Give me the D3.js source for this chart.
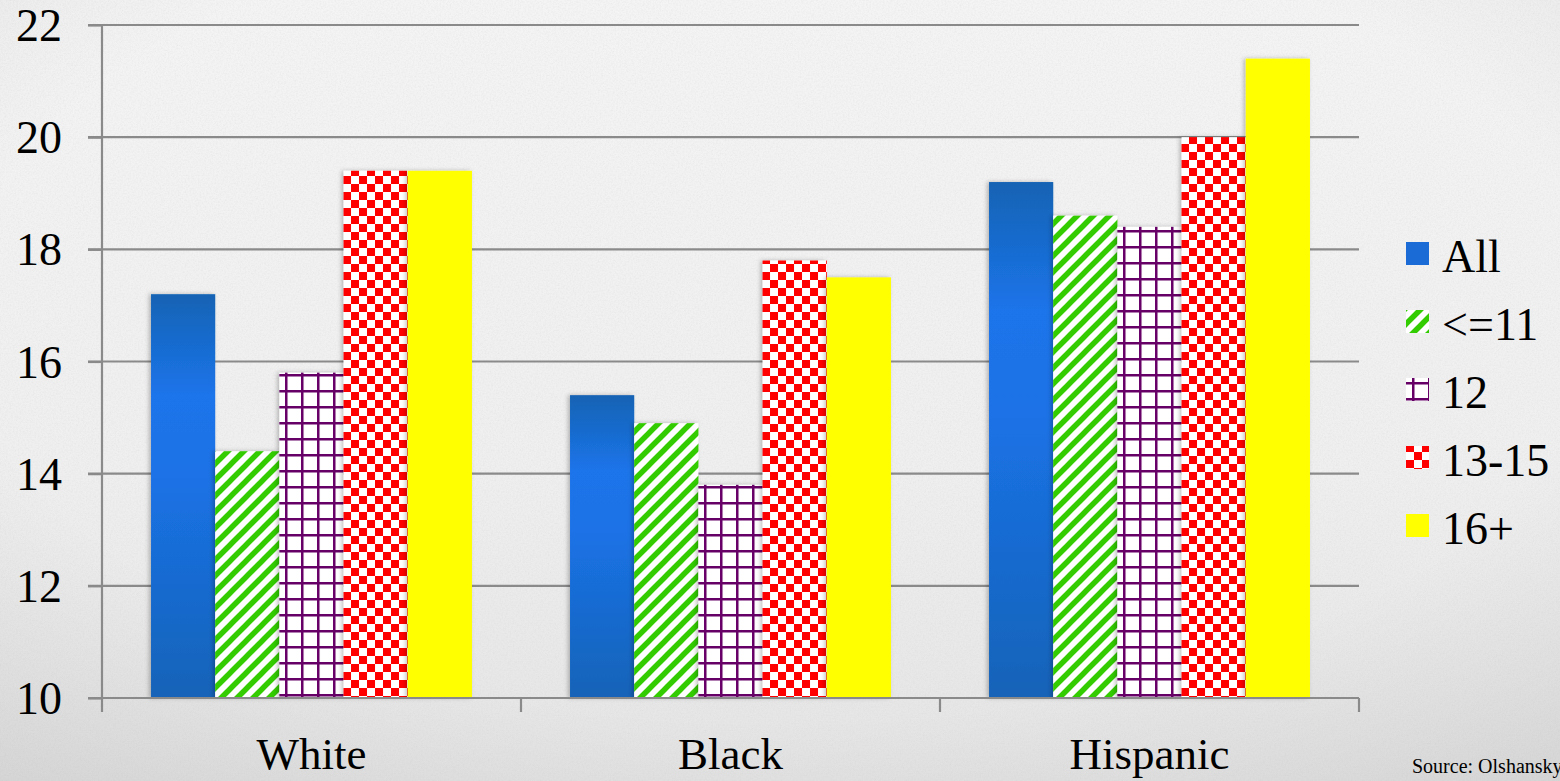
<!DOCTYPE html>
<html>
<head>
<meta charset="utf-8">
<script src="https://cdn.jsdelivr.net/npm/d3@7"></script>
<style>
html,body{margin:0;padding:0;background:#f1f1f1;}
svg{display:block;}
</style>
</head>
<body>
<svg id="chart" width="1560" height="781"></svg>
<script>
const categories = ["White", "Black", "Hispanic"];
const seriesNames = ["All", "<=11", "12", "13-15", "16+"];
const valuesAll   = [17.2, 15.4, 19.2];
const valuesLe11  = [14.4, 14.9, 18.6];
const values12    = [15.8, 13.8, 18.4];
const values1315  = [19.4, 17.8, 20.0];
const values16    = [19.4, 17.5, 21.4];
const yTicks = [10, 12, 14, 16, 18, 20, 22];
const sourceText = "Source: Olshansky et al.";

const series = [valuesAll, valuesLe11, values12, values1315, values16];

(function () {
const W = 1560, H = 781;
const svg = d3.select("#chart");
const defs = svg.append("defs");

// paper texture
const tex = defs.append("filter").attr("id","paper").attr("x",0).attr("y",0).attr("width","100%").attr("height","100%");
tex.append("feTurbulence").attr("type","fractalNoise").attr("baseFrequency","0.6").attr("numOctaves",3).attr("seed",4).attr("result","noise");
tex.append("feColorMatrix").attr("in","noise").attr("type","matrix")
  .attr("values","0 0 0 0 0.6  0 0 0 0 0.6  0 0 0 0 0.6  0 0 0 -1.6 1.0").attr("result","tint");
tex.append("feComposite").attr("in","tint").attr("in2","SourceGraphic").attr("operator","in");

const bgGrad = defs.append("linearGradient").attr("id","bgGrad").attr("x1",0).attr("y1",0).attr("x2",0).attr("y2",1);
bgGrad.append("stop").attr("offset","0%").attr("stop-color","#f4f4f4");
bgGrad.append("stop").attr("offset","60%").attr("stop-color","#efefef");
bgGrad.append("stop").attr("offset","100%").attr("stop-color","#e4e4e4");

const vig = defs.append("radialGradient").attr("id","vignette").attr("cx","50%").attr("cy","40%").attr("r","80%");
vig.append("stop").attr("offset","65%").attr("stop-color","#000").attr("stop-opacity",0);
vig.append("stop").attr("offset","100%").attr("stop-color","#000").attr("stop-opacity",0.07);

svg.append("rect").attr("width",W).attr("height",H).attr("fill","url(#bgGrad)");
svg.append("rect").attr("width",W).attr("height",H).attr("fill","#f1f1f1").attr("filter","url(#paper)").attr("opacity",0.25);
svg.append("rect").attr("width",W).attr("height",H).attr("fill","url(#vignette)");

// patterns
const blue = defs.append("linearGradient").attr("id","blueGrad").attr("x1",0).attr("y1",0).attr("x2",0).attr("y2",1);
blue.append("stop").attr("offset","0%").attr("stop-color","#1463b4");
blue.append("stop").attr("offset","25%").attr("stop-color","#1c74ea");
blue.append("stop").attr("offset","45%").attr("stop-color","#1b72e6");
blue.append("stop").attr("offset","100%").attr("stop-color","#1463b8");

const pGreen = defs.append("pattern").attr("id","pGreen").attr("patternUnits","userSpaceOnUse").attr("width",16).attr("height",16);
pGreen.append("rect").attr("width",16).attr("height",16).attr("fill","#fff");
pGreen.append("path").attr("d","M-4,4 L4,-4 M0,16 L16,0 M12,20 L20,12").attr("stroke","#33cc00").attr("stroke-width",5.5);

const pGrid = defs.append("pattern").attr("id","pGrid").attr("patternUnits","userSpaceOnUse").attr("width",16).attr("height",16);
pGrid.append("rect").attr("width",16).attr("height",16).attr("fill","#fff");
pGrid.append("rect").attr("x",6).attr("y",0).attr("width",2.5).attr("height",16).attr("fill","#660066");
pGrid.append("rect").attr("x",0).attr("y",6).attr("width",16).attr("height",2.5).attr("fill","#660066");

const pCheck = defs.append("pattern").attr("id","pCheck").attr("patternUnits","userSpaceOnUse").attr("width",16).attr("height",16);
pCheck.append("rect").attr("width",16).attr("height",16).attr("fill","#fff");
pCheck.append("rect").attr("x",0).attr("y",0).attr("width",8).attr("height",8).attr("fill","#ff0000");
pCheck.append("rect").attr("x",8).attr("y",8).attr("width",8).attr("height",8).attr("fill","#ff0000");

const fills = ["url(#blueGrad)", "url(#pGreen)", "url(#pGrid)", "url(#pCheck)", "#ffff00"];
const legendFills = ["#1a6bd6", "url(#pGreen)", "url(#pGrid)", "url(#pCheck)", "#ffff00"];

const shadow = defs.append("filter").attr("id","shadow").attr("x","-20%").attr("y","-5%").attr("width","140%").attr("height","110%");
shadow.append("feDropShadow").attr("dx",-2).attr("dy",0).attr("stdDeviation",2).attr("flood-color","#000").attr("flood-opacity",0.25);

// scales
const pLeft = 102, pRight = 1359, pTop = 25, pBottom = 698;
const x0 = d3.scaleBand().domain(categories).range([pLeft, pRight]).paddingInner(0.234).paddingOuter(0.117);
const x1 = d3.scaleBand().domain(seriesNames).range([0, x0.bandwidth()]);
const y = d3.scaleLinear().domain([10, 22]).range([pBottom, pTop]);

const font = "'Liberation Serif','Times New Roman',Times,serif";
const gray = "#8a8a8a";

// gridlines
svg.append("g").selectAll("line").data(yTicks).join("line")
  .attr("x1", pLeft - 14).attr("x2", pRight).attr("y1", d => y(d)).attr("y2", d => y(d))
  .attr("stroke", gray).attr("stroke-width", 2.2);

// bars
const groups = svg.append("g").selectAll("g").data(categories).join("g")
  .attr("transform", d => `translate(${x0(d)},0)`);
groups.selectAll("rect").data((d, i) => seriesNames.map((s, j) => ({s, j, v: series[j][i]}))).join("rect")
  .attr("x", d => x1(d.s)).attr("width", x1.bandwidth())
  .attr("y", d => y(d.v)).attr("height", d => y(10) - y(d.v))
  .attr("fill", d => fills[d.j]).attr("filter", "url(#shadow)");

// y axis
const yAxis = d3.axisLeft(y).tickValues(yTicks).tickSize(14).tickPadding(26).tickFormat(d3.format("d"));
const gy = svg.append("g").attr("transform", `translate(${pLeft},0)`).call(yAxis);
gy.attr("font-family", font);
gy.select(".domain").remove();
gy.selectAll(".tick line").attr("stroke", gray).attr("stroke-width", 2.2);
gy.selectAll(".tick text").attr("font-family", font).attr("font-size", 46).attr("fill", "#000").attr("dy", "0.34em");
svg.append("line").attr("x1", pLeft).attr("x2", pLeft).attr("y1", pTop).attr("y2", pBottom)
  .attr("stroke", gray).attr("stroke-width", 2.2);

// x axis
const xAxis = d3.axisBottom(x0).tickSize(0).tickPadding(39);
const gx = svg.append("g").attr("transform", `translate(0,${pBottom})`).call(xAxis);
gx.attr("font-family", font);
gx.select(".domain").attr("stroke", gray).attr("stroke-width", 2.2).attr("d", `M${pLeft},0H${pRight}`);
gx.selectAll(".tick text").attr("font-family", font).attr("font-size", 45).attr("fill", "#000");
const boundaries = d3.range(categories.length + 1).map(i => pLeft + i * x0.step());
svg.append("g").selectAll("line").data(boundaries).join("line")
  .attr("x1", d => d).attr("x2", d => d).attr("y1", pBottom).attr("y2", pBottom + 14)
  .attr("stroke", gray).attr("stroke-width", 2.2);

// legend
const legY = d3.scalePoint().domain(seriesNames).range([272, 544]);
const leg = svg.append("g").attr("font-family", font).selectAll("g").data(seriesNames).join("g")
  .attr("transform", d => `translate(1406,${legY(d)})`);
leg.append("rect").attr("x", 0).attr("y", -30).attr("width", 23).attr("height", 23)
  .attr("fill", (d, i) => legendFills[i]);
leg.append("text").attr("x", 36).attr("y", 0).text(d => d)
  .attr("font-family", font).attr("font-size", 46).attr("fill", "#000");

// source
svg.append("text").attr("x", 1412).attr("y", 773).text(sourceText)
  .attr("font-family", font).attr("font-size", 20).attr("fill", "#000");
})();
</script>
</body>
</html>
